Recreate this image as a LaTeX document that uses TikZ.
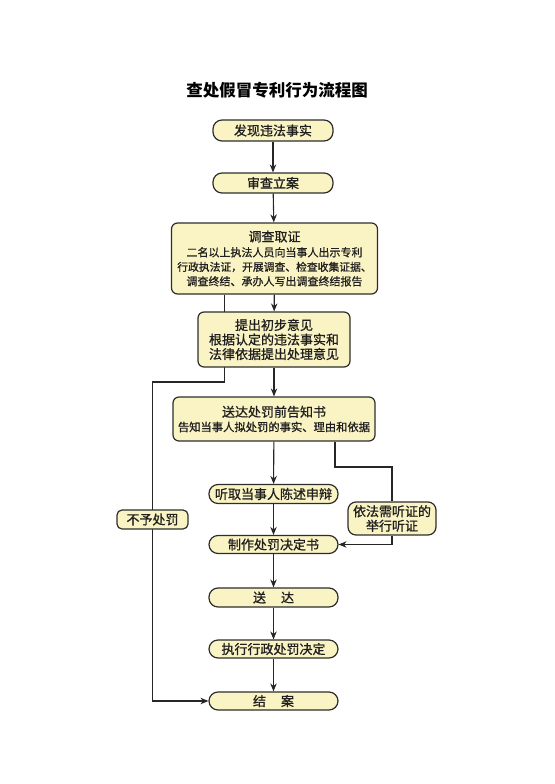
\documentclass[tikz,border=0pt]{standalone}
\usepackage{fontspec}
\usetikzlibrary{arrows.meta,backgrounds}
\newfontfamily\cjk[FakeBold=0.9]{Noto Sans CJK SC}
\newfontfamily\cjkhead{Noto Sans CJK SC}

\definecolor{boxfill}{RGB}{250,243,196}
\definecolor{boxline}{RGB}{45,45,45}

\tikzset{
  flowbox/.style={draw=boxline, fill=boxfill, line width=1.2pt, rounded corners=6pt,
    align=center, inner sep=0pt, text=black!88, font=\cjk\fontsize{13}{14.5}\selectfont},
  pillbox/.style={flowbox, rounded corners=9pt},
  flowarrow/.style={line width=1.1pt, draw=black!85, -{Stealth[length=8pt,width=6.5pt]}},
  flowline/.style={line width=1.1pt, draw=black!85},
}

\begin{document}
\begin{tikzpicture}[x=1pt, y=-1pt, line cap=round, line join=round]

  %% ════ 标题 ════
  \node[font=\cjkhead\bfseries\fontsize{16.5}{20}\selectfont] (title) at (277.0,90.0) {查处假冒专利行为流程图};

  %% ════ 主流程框 ════
  \node[pillbox, minimum width=120pt, minimum height=21pt] (fact) at (273.0,130.5) {发现违法事实};
  \node[pillbox, minimum width=120pt, minimum height=20pt] (filing) at (273.0,183.0) {审查立案};
  \node[flowbox, minimum width=206pt, minimum height=71pt] (investigate) at (274.5,258.5)
    {调查取证\\[0.5pt]\fontsize{11}{14.5}\selectfont
     二名以上执法人员向当事人出示专利\\
     \fontsize{10.8}{14.5}\selectfont 行政执法证，开展调查、检查收集证据、\\
     \fontsize{11}{14.5}\selectfont 调查终结、承办人写出调查终结报告};
  \node[flowbox, minimum width=152pt, minimum height=55pt] (opinion) at (274.0,339.5)
    {提出初步意见\\根据认定的违法事实和\\法律依据提出处理意见};
  \node[flowbox, minimum width=202pt, minimum height=44pt] (notice) at (274.0,419.0)
    {送达处罚前告知书\\\fontsize{11.3}{15}\selectfont 告知当事人拟处罚的事实、理由和依据};
  \node[pillbox, minimum width=129pt, minimum height=19pt] (defense) at (273.5,494.0) {听取当事人陈述申辩};
  \node[pillbox, minimum width=129pt, minimum height=18pt] (decision) at (273.5,544.5) {制作处罚决定书};
  \node[pillbox, minimum width=129pt, minimum height=19pt] (deliver) at (273.5,597.5) {送\hspace{15pt}达};
  \node[pillbox, minimum width=129pt, minimum height=18pt] (execute) at (273.5,649.0) {执行行政处罚决定};
  \node[pillbox, minimum width=129pt, minimum height=18pt] (closed) at (273.5,701.0) {结\hspace{15pt}案};

  %% ════ 旁支框 ════
  \node[flowbox, rounded corners=8pt, minimum width=88pt, minimum height=33pt] (hearing) at (392.0,518.5) {依法需听证的\\举行听证};
  \node[flowbox, rounded corners=5pt, minimum width=71pt, minimum height=19pt] (nopenalty) at (152.5,519.5) {不予处罚};

  %% ════ 折点 ════
  \coordinate (nobend1) at (224.5,382.0);
  \coordinate (nobend2) at (152.5,382.0);
  \coordinate (hearbend1) at (335.0,467.0);
  \coordinate (hearbend2) at (392.0,467.0);

  %% ════ 连线（放在底层，被框盖住）════
  \begin{scope}[on background layer]
    \draw[flowarrow] (fact) -- (filing);
    \draw[flowarrow] (filing) -- (investigate);
    \draw[flowarrow] (investigate) -- (opinion);
    \draw[flowarrow] (opinion) -- (notice);
    \draw[flowarrow] (notice) -- (defense);
    \draw[flowarrow] (defense) -- (decision);
    \draw[flowarrow] (decision) -- (deliver);
    \draw[flowarrow] (deliver) -- (execute);
    \draw[flowarrow] (execute) -- (closed);
    % 不予处罚：穿过初步意见框和不予处罚框
    \draw[flowarrow] (investigate.south -| nobend1) -- (nobend1) -- (nobend2) -- (nobend2 |- closed.west) -- (closed.west);
    % 听证
    \draw[flowline] (notice.south -| hearbend1) -- (hearbend1) -- (hearbend2) -- (hearing.north);
    \draw[flowarrow] (hearing.south) -- (hearing.south |- decision.east) -- (decision.east);
  \end{scope}

  \pgfresetboundingbox
  \path[use as bounding box] (0,0) rectangle (554,784);
\end{tikzpicture}
\end{document}
